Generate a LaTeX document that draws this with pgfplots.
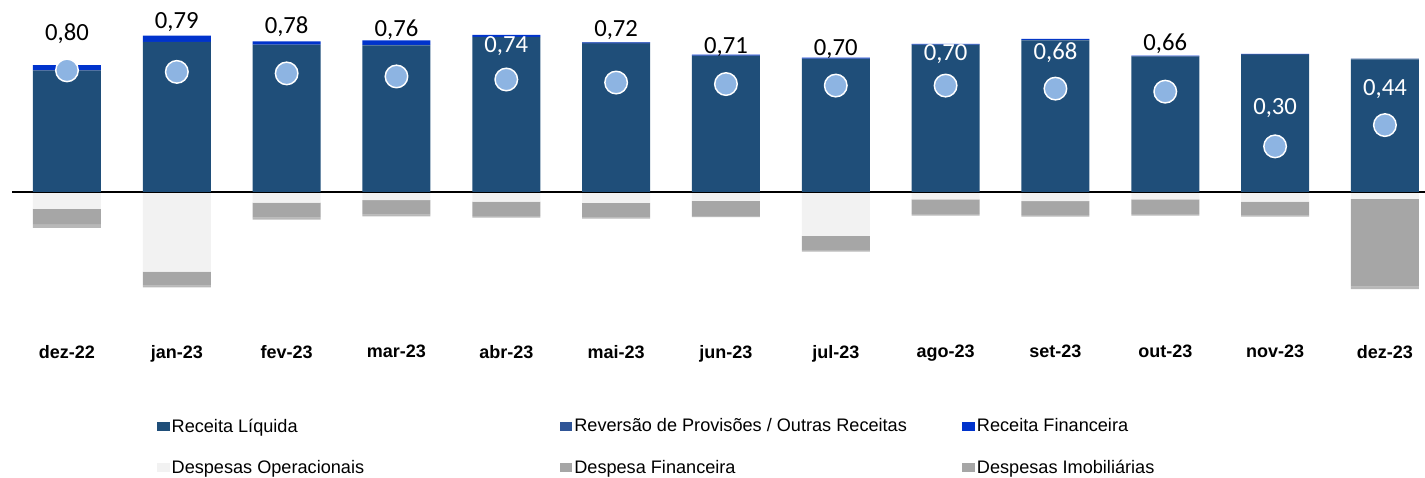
\documentclass[border=0pt]{standalone}
\usepackage{pgfplots}
\usepackage{pgfplotstable}
\pgfplotsset{compat=1.18}
\usepackage{fontspec}
\setmainfont{Liberation Sans}
\newfontfamily\calfont{Carlito}
\definecolor{navy}{HTML}{1F4E79}
\definecolor{revblue}{HTML}{2F5597}
\definecolor{finblue}{HTML}{0033CC}
\definecolor{circ}{HTML}{8DB4E2}
\definecolor{opgray}{HTML}{F2F2F2}
\definecolor{fingray}{HTML}{A6A6A6}
\definecolor{imgray}{HTML}{B8B8B8}

% values in R$ per unit (same scale as the result circles)
\pgfplotstableread{
i rl rv rf
0 0.798 0.004 0.032
1 0.985 0.003 0.040
2 0.967 0.003 0.021
3 0.965 0.003 0.030
4 1.018 0.002 0.013
5 0.974 0.008 0.003
6 0.895 0.002 0.007
7 0.875 0.002 0.007
8 0.967 0.003 0.004
9 0.998 0.002 0.007
10 0.890 0.003 0.004
11 0.901 0.006 0.001
12 0.873 0.004 0.000
}\pos
\pgfplotstableread{
i op df di
0 -0.112 -0.099 -0.026
1 -0.524 -0.092 -0.011
2 -0.070 -0.099 -0.013
3 -0.053 -0.096 -0.011
4 -0.064 -0.094 -0.011
5 -0.072 -0.096 -0.007
6 -0.059 -0.099 -0.007
7 -0.289 -0.092 -0.011
8 -0.048 -0.096 -0.011
9 -0.061 -0.090 -0.011
10 -0.048 -0.096 -0.011
11 -0.064 -0.092 -0.007
12 -0.046 -0.577 -0.017
}\neg
\pgfplotstableread{
i res
0 0.80
1 0.79
2 0.78
3 0.76
4 0.74
5 0.72
6 0.71
7 0.70
8 0.70
9 0.68
10 0.66
11 0.30
12 0.44
}\res
\pgfplotstableread{
i y lab
0 1.043 0,80
1 1.118 0,79
2 1.088 0,78
3 1.068 0,76
5 1.068 0,72
6 0.950 0,71
7 0.943 0,70
10 0.976 0,66
}\labblack
\pgfplotstableread{
i y lab
4 0.963 0,74
8 0.910 0,70
9 0.917 0,68
11 0.549 0,30
12 0.680 0,44
}\labwhite

\pgfplotsset{common/.style={
  x=82.37pt, y=114pt,
  xmin=-0.5, xmax=12.37, ymin=-0.96, ymax=1.263,
  enlargelimits=false,
  axis line style={draw=none},
  major tick length=0pt,
  ytick=\empty,
  xtick={0,...,12},
}}
\newcommand\LE[1]{\makebox[291pt][l]{\rule[-3pt]{0pt}{12pt}#1}}

\begin{document}
\begin{tikzpicture}
% negative stack
\begin{axis}[common, ybar stacked, bar width=51pt, xticklabels={}]
  \addplot[fill=opgray, draw=none] table[x=i, y=op]{\neg};
  \addplot[fill=fingray, draw=none] table[x=i, y=df]{\neg};
  \addplot[fill=imgray, draw=none] table[x=i, y=di]{\neg};
\end{axis}
% positive stack
\begin{axis}[common, ybar stacked, bar width=51pt,
  xticklabels={dez-22,jan-23,fev-23,mar-23,abr-23,mai-23,jun-23,jul-23,ago-23,set-23,out-23,nov-23,dez-23},
  xticklabel style={font=\bfseries\fontsize{13.5}{16}\selectfont, yshift=-2pt}]
  \addplot[fill=navy, draw=none] table[x=i, y=rl]{\pos};
  \addplot[fill=revblue, draw=none] table[x=i, y=rv]{\pos};
  \addplot[fill=finblue, draw=none] table[x=i, y=rf]{\pos};
  \draw[black, line width=1.5pt] (axis cs:-0.5,0) -- (axis cs:12.37,0);
\end{axis}
% result circles, labels and legend
\begin{axis}[common, xticklabels={}, clip=false,
  legend columns=3,
  legend image code/.code={\fill[#1] (0pt,-3.5pt) rectangle (9.5pt,3.5pt);},
  legend style={at={(axis cs:0.8195,-1.678)}, anchor=west, draw=none, fill=none,
    inner sep=0pt, outer sep=0pt, font=\fontsize{13.6}{15}\selectfont,
    nodes={inner sep=0pt}, column sep=0pt, row sep=19.5pt,
    /tikz/every odd column/.append style={column sep=1.5pt}},
  legend cell align=left]
  \addlegendimage{fill=navy, draw=none}
  \addlegendentry{\LE{Receita Líquida}}
  \addlegendimage{fill=revblue, draw=none}
  \addlegendentry{\LE{Reversão de Provisões / Outras Receitas}}
  \addlegendimage{fill=finblue, draw=none}
  \addlegendentry{\LE{Receita Financeira}}
  \addlegendimage{fill=opgray, draw=none}
  \addlegendentry{\LE{Despesas Operacionais}}
  \addlegendimage{fill=fingray, draw=none}
  \addlegendentry{\LE{Despesa Financeira}}
  \addlegendimage{fill=fingray, draw=none}
  \addlegendentry{\LE{Despesas Imobiliárias}}
  \addplot[forget plot, only marks, mark=*, mark size=8.45pt,
    mark options={fill=circ, draw=white, line width=1.1pt}] table[x=i, y=res]{\res};
  \addplot[forget plot, draw=none, mark=none, nodes near coords, point meta=explicit symbolic,
    every node near coord/.append style={anchor=center, inner sep=0pt, text=black,
      font=\calfont\fontsize{18.5}{21}\selectfont}] table[x=i, y=y, meta=lab]{\labblack};
  \addplot[forget plot, draw=none, mark=none, nodes near coords, point meta=explicit symbolic,
    every node near coord/.append style={anchor=center, inner sep=0pt, text=white,
      font=\calfont\fontsize{18.5}{21}\selectfont}] table[x=i, y=y, meta=lab]{\labwhite};
  \coordinate (BL) at (axis cs:-0.610,-1.8816);
  \coordinate (TR) at (axis cs:12.365,1.263);
\end{axis}
\pgfresetboundingbox
\useasboundingbox (BL) rectangle (TR);
\end{tikzpicture}
\end{document}
